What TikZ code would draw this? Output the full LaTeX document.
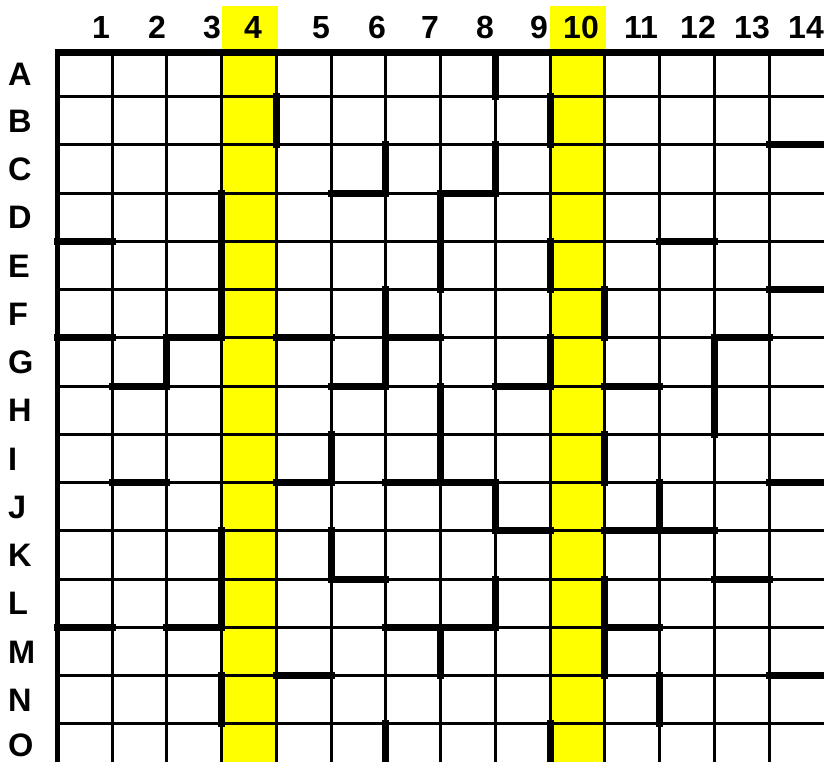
\documentclass[tikz,border=0pt]{standalone}
\usepackage{fontspec}
\setmainfont{Liberation Sans}
\definecolor{hilite}{RGB}{255,255,0}
\begin{document}
\begin{tikzpicture}[x=1pt,y=-1pt,
  gridline/.style={line width=3pt, black},
  wall/.style={line width=7pt, line cap=rect, black},
  border/.style={line width=7pt, black},
  collabel/.style={anchor=base, inner sep=0pt, font=\fontsize{32}{32}\selectfont\bfseries},
  rowlabel/.style={anchor=base west, inner sep=0pt, font=\fontsize{32.5}{32.5}\selectfont\bfseries}]
\useasboundingbox (0,0) rectangle (824,762);
\clip (0,0) rectangle (824,762);
% yellow highlighted columns
\fill[hilite] ({57.25+54.75*3},6) rectangle ({57.25+54.75*4+1.5},762);
\fill[hilite] ({57.25+54.75*9},6) rectangle ({57.25+54.75*10+1.5},762);
% thin grid
\foreach \k in {1,...,13}
  \draw[gridline] ({57.25+54.75*\k},53) -- ({57.25+54.75*\k},762);
\foreach \r in {1,...,14}
  \draw[gridline] (57,{48.45+48.25*\r}) -- (824,{48.45+48.25*\r});
% vertical walls: column line / row
\draw[wall] ({57.25+54.75*8},56) -- ({57.25+54.75*8},{48.45+48.25});
\foreach \k/\r in {4/2, 9/2, 6/3, 8/3, 3/4, 3/5, 3/6, 7/4, 7/5, 9/5, 10/6, 6/6, 6/7, 2/7, 9/7, 12/7, 12/8, 7/8, 7/9, 5/9, 10/9, 8/10, 11/10, 3/11, 3/12, 5/11, 8/12, 10/12, 10/13, 7/13, 3/14, 11/14, 6/15, 9/15}
  \draw[wall] ({57.25+54.75*\k},{48.45+48.25*(\r-1)}) -- ({57.25+54.75*\k},{48.45+48.25*\r});
% horizontal walls: row line / column
\foreach \r/\c in {2/14, 3/6, 3/8, 4/1, 4/12, 5/14, 6/1, 6/3, 6/5, 6/7, 6/13, 7/2, 7/6, 7/9, 7/11, 9/2, 9/5, 9/7, 9/8, 9/14, 10/9, 10/11, 10/12, 11/6, 11/13, 12/1, 12/3, 12/7, 12/8, 12/11, 13/5, 13/14}
  \draw[wall] ({57.25+54.75*(\c-1)},{48.45+48.25*\r}) -- ({57.25+54.75*\c},{48.45+48.25*\r});
% outer border
\draw[border] (54.5,53) -- (824,53);
\draw[line width=5pt] (57.5,49.5) -- (57.5,762);
% column labels
\foreach \n/\x in {1/101, 2/157, 3/212, 4/253, 5/321, 6/377, 7/430, 8/485, 9/539, 10/581, 11/641, 12/698, 13/752, 14/806}
  \node[collabel] (col\n) at (\x,39) {\n};
% row labels
\node[rowlabel] (rowA) at (8,86) {A};
\foreach \L [count=\i from 2] in {B,C,D,E,F,G,H,I,J,K,L,M,N}
  \node[rowlabel] (row\L) at (8,{48.45+48.25*(\i-0.5)+11.5}) {\L};
\node[rowlabel] (rowO) at (8,756) {O};
\end{tikzpicture}
\end{document}
